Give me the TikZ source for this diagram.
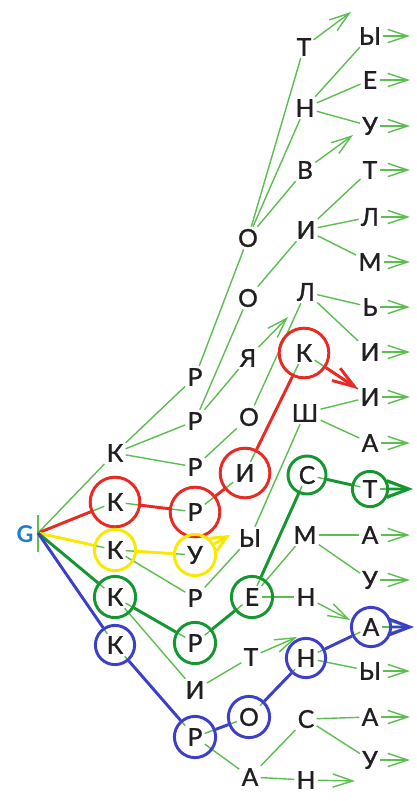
\documentclass[tikz,border=0pt]{standalone}
\usepackage{fontspec}
\usepackage{tikz}
\usetikzlibrary{arrows.meta}
\usepackage{color}
\newfontfamily\triefont[FakeBold=1.2]{Lato}
\newfontfamily\rootfont{Lato}
\definecolor{twig}{RGB}{92,190,80}
\definecolor{redc}{RGB}{232,42,36}
\definecolor{yellowc}{RGB}{250,232,0}
\definecolor{greenc}{RGB}{22,150,48}
\definecolor{bluec}{RGB}{60,64,200}
\definecolor{rootc}{RGB}{30,125,205}

\begin{document}
\begin{tikzpicture}
      [x = 0.025cm, y = -0.025cm,
      letter/.style= {
         font = \triefont\fontsize{17.5}{17.5}\selectfont,
         text = black!88,
         inner sep = 1.5pt
      },
      ring/.style= {
         draw = #1,
         circle,
         line width = 2.1pt,
         inner sep = 0pt,
         minimum size = 1.03cm
      },
      link/.style= {
         draw = twig,
         line width = 1pt
      },
      tip/.style= {
         link,
         -{Straight Barb[length = 0.5cm, width = 0.33cm]}
      },
      route/.style= {
         draw = #1,
         line width = 2.1pt,
         -{Straight Barb[length = 0.55cm, width = 0.42cm]}
      }]

      \useasboundingbox (0, 0) rectangle (416, 801);

      \coordinate (root) at (38, 533);
      \coordinate (rim) at (410, 0);
      \node[font = \rootfont\bfseries\fontsize{16.5}{16.5}\selectfont, text = rootc] (gname) at (25, 534) {G};
      \draw[twig, line width = 1.4pt] (38, 515) -- (38, 552);

      % first letters
      \node[letter] (k1) at (115, 453) {К};
      \node[letter] (k2) at (115, 502) {К};
      \node[letter] (k3) at (115, 550) {К};
      \node[letter] (k4) at (115, 597) {К};
      \node[letter] (k5) at (115, 645) {К};

      % second letters
      \node[letter] (r1) at (195, 377) {Р};
      \node[letter] (r2) at (195, 421) {Р};
      \node[letter] (r3) at (195, 467) {Р};
      \node[letter] (r4) at (195, 512) {Р};
      \node[letter] (u1) at (195, 555) {У};
      \node[letter] (r5) at (195, 598) {Р};
      \node[letter] (r6) at (195, 643) {Р};
      \node[letter] (i1) at (195, 690) {И};
      \node[letter] (r7) at (195, 737) {Р};

      % third letters
      \node[letter] (o1) at (248, 238) {О};
      \node[letter] (o2) at (248, 298) {О};
      \node[letter] (ya) at (248, 358) {Я};
      \node[letter] (o3) at (249, 417) {О};
      \node[letter] (i2) at (245, 473) {И};
      \node[letter] (y1) at (250, 538) {Ы};
      \node[letter] (e1) at (252, 597) {Е};
      \node[letter] (t1) at (251, 657) {Т};
      \node[letter] (o4) at (249, 717) {О};
      \node[letter] (a1) at (250, 777) {А};

      % fourth letters
      \node[letter] (t2) at (304, 47) {Т};
      \node[letter] (n1) at (305, 108) {Н};
      \node[letter] (v1) at (305, 170) {В};
      \node[letter] (i3) at (306, 230) {И};
      \node[letter] (l1) at (306, 292) {Л};
      \node[letter] (k6) at (304, 353) {К};
      \node[letter] (sh) at (305, 413) {Ш};
      \node[letter] (s1) at (307, 475) {С};
      \node[letter] (m1) at (305, 535) {М};
      \node[letter] (n2) at (306, 597) {Н};
      \node[letter] (n3) at (306, 658) {Н};
      \node[letter] (s2) at (306, 719) {С};
      \node[letter] (n4) at (306, 780) {Н};

      % fifth letters
      \node[letter] (y2) at (370, 36) {Ы};
      \node[letter] (e2) at (370, 80) {Е};
      \node[letter] (u2) at (370, 126) {У};
      \node[letter] (t3) at (370, 170) {Т};
      \node[letter] (l2) at (370, 217) {Л};
      \node[letter] (m2) at (370, 262) {М};
      \node[letter] (soft) at (370, 307) {Ь};
      \node[letter] (i4) at (370, 352) {И};
      \node[letter] (i5) at (370, 397) {И};
      \node[letter] (a2) at (370, 443) {А};
      \node[letter] (t4) at (370, 489) {Т};
      \node[letter] (a3) at (370, 535) {А};
      \node[letter] (u3) at (370, 580) {У};
      \node[letter] (a4) at (371, 627) {А};
      \node[letter] (y3) at (370, 671) {Ы};
      \node[letter] (a5) at (370, 717) {А};
      \node[letter] (u4) at (370, 760) {У};

      % loose ends
      \coordinate (t2e) at (351, 12);
      \coordinate (v1e) at (353, 135);
      \coordinate (yae) at (288, 317);
      \coordinate (t1e) at (297, 637);
      \coordinate (n2e) at (350, 620);
      \coordinate (n4e) at (355, 781);
      \coordinate (yellowend) at (230, 535);
      \coordinate (greenend) at (413, 489);
      \coordinate (blueend) at (414, 627);

      % the tree
      \draw[link] (root) -- (k1);
      \draw[link] (root) -- (k2);
      \draw[link] (root) -- (k3);
      \draw[link] (root) -- (k4);
      \draw[link] (root) -- (k5);
      \draw[link] (k1) -- (r1);
      \draw[link] (k1) -- (r2);
      \draw[link] (k1) -- (r3);
      \draw[link] (k2) -- (r4);
      \draw[link] (k3) -- (u1);
      \draw[link] (k3) -- (r5);
      \draw[link] (k4) -- (r6);
      \draw[link] (k4) -- (i1);
      \draw[link] (k5) -- (r7);
      \draw[link] (r1) -- (o1);
      \draw[link] (r2) -- (o2);
      \draw[link] (r2) -- (ya);
      \draw[link] (r3) -- (o3);
      \draw[link] (r4) -- (i2);
      \draw[link] (r5) -- (y1);
      \draw[link] (r6) -- (e1);
      \draw[link] (i1) -- (t1);
      \draw[link] (r7) -- (o4);
      \draw[link] (r7) -- (a1);
      \draw[link] (o1) -- (t2);
      \draw[link] (o1) -- (n1);
      \draw[link] (o1) -- (v1);
      \draw[link] (o2) -- (i3);
      \draw[link] (o3) -- (l1);
      \draw[link] (i2) -- (k6);
      \draw[link] (y1) -- (sh);
      \draw[link] (e1) -- (s1);
      \draw[link] (e1) -- (m1);
      \draw[link] (e1) -- (n2);
      \draw[link] (o4) -- (n3);
      \draw[link] (a1) -- (s2);
      \draw[link] (a1) -- (n4);
      \draw[link] (n1) -- (y2);
      \draw[link] (n1) -- (e2);
      \draw[link] (n1) -- (u2);
      \draw[link] (i3) -- (t3);
      \draw[link] (i3) -- (l2);
      \draw[link] (i3) -- (m2);
      \draw[link] (l1) -- (soft);
      \draw[link] (l1) -- (i4);
      \draw[link] (k6) -- (i5);
      \draw[link] (sh) -- (i5);
      \draw[link] (sh) -- (a2);
      \draw[link] (s1) -- (t4);
      \draw[link] (m1) -- (a3);
      \draw[link] (m1) -- (u3);
      \draw[link] (n3) -- (a4);
      \draw[link] (n3) -- (y3);
      \draw[link] (s2) -- (a5);
      \draw[link] (s2) -- (u4);

      % word ends
      \draw[tip] (t2) -- (t2e);
      \draw[tip] (v1) -- (v1e);
      \draw[tip] (ya) -- (yae);
      \draw[tip] (t1) -- (t1e);
      \draw[tip] (n2) -- (n2e);
      \draw[tip] (n4) -- (n4e);
      \draw[tip] (y2) -- (y2 -| rim);
      \draw[tip] (e2) -- (e2 -| rim);
      \draw[tip] (u2) -- (u2 -| rim);
      \draw[tip] (t3) -- (t3 -| rim);
      \draw[tip] (l2) -- (l2 -| rim);
      \draw[tip] (m2) -- (m2 -| rim);
      \draw[tip] (soft) -- (soft -| rim);
      \draw[tip] (i4) -- (i4 -| rim);
      \draw[tip] (i5) -- (i5 -| rim);
      \draw[tip] (a2) -- (a2 -| rim);
      \draw[tip] (t4) -- (t4 -| rim);
      \draw[tip] (a3) -- (a3 -| rim);
      \draw[tip] (u3) -- (u3 -| rim);
      \draw[tip] (a4) -- (a4 -| rim);
      \draw[tip] (y3) -- (y3 -| rim);
      \draw[tip] (a5) -- (a5 -| rim);
      \draw[tip] (u4) -- (u4 -| rim);

      % circled searches
      \node[ring = redc, minimum size = 1.24cm] (k2c) at (k2) {};
      \node[ring = redc, minimum size = 1.24cm] (r4c) at (r4) {};
      \node[ring = redc, minimum size = 1.24cm] (i2c) at (i2) {};
      \node[ring = redc, minimum size = 1.24cm] (k6c) at (k6) {};
      \node[ring = yellowc] (k3c) at (k3) {};
      \node[ring = yellowc] (u1c) at (u1) {};
      \node[ring = greenc] (k4c) at (k4) {};
      \node[ring = greenc] (r6c) at (r6) {};
      \node[ring = greenc] (e1c) at (e1) {};
      \node[ring = greenc, minimum size = 0.95cm] (s1c) at (s1) {};
      \node[ring = greenc, minimum size = 0.88cm] (t4c) at (t4) {};
      \node[ring = bluec, minimum size = 0.98cm] (k5c) at (k5) {};
      \node[ring = bluec] (r7c) at (r7) {};
      \node[ring = bluec] (o4c) at (o4) {};
      \node[ring = bluec, minimum size = 0.98cm] (n3c) at (n3) {};
      \node[ring = bluec, minimum size = 0.98cm] (a4c) at (a4) {};

      \draw[route = redc, -{Straight Barb[length = 0.55cm, width = 0.37cm]}] (root) -- (k2c) -- (r4c) -- (i2c) -- (k6c) -- (i5);
      \draw[route = yellowc, -{Straight Barb[length = 0.4cm, width = 0.37cm]}] (root) -- (k3c) -- (u1c) -- (yellowend);
      \draw[route = greenc] (root) -- (k4c) -- (r6c) -- (e1c) -- (s1c) -- (t4c) -- (greenend);
      \draw[route = bluec] (root) -- (k5c) -- (r7c) -- (o4c) -- (n3c) -- (a4c) -- (blueend);

   \end{tikzpicture}
\end{document}
